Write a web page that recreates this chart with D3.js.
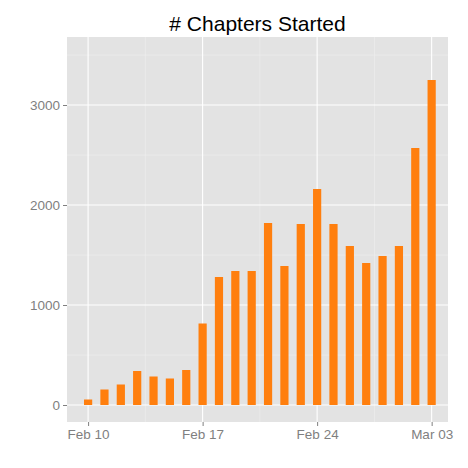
<!DOCTYPE html>
<html><head><meta charset="utf-8">
<script src="https://cdn.jsdelivr.net/npm/d3@7"></script>
<style>body{margin:0;background:#fff}</style>
</head><body><svg width="468" height="468"></svg>
<script>
// daily counts, Feb 10 .. Mar 03 (2014)
const startDate = new Date(2014, 1, 10);
const counts = [55, 155, 205, 340, 285, 265, 350, 815, 1280, 1340, 1340, 1820, 1390, 1810, 2160, 1810, 1590, 1420, 1490, 1590, 2570, 3250];
const xTicks = [new Date(2014, 1, 10), new Date(2014, 1, 17), new Date(2014, 1, 24), new Date(2014, 2, 3)];
const yTicks = [0, 1000, 2000, 3000];
const yMinor = [500, 1500, 2500, 3500];

const day = 864e5;
const data = counts.map((v, i) => ({ date: new Date(+startDate + i * day), value: v }));

const svg = d3.select("svg");
const L = 67, R = 448, T = 37, B = 422;

const x = d3.scaleTime()
  .domain([new Date(+startDate - 1.29 * day), new Date(+startDate + 22.0 * day)])
  .range([L, R]);
const y = d3.scaleLinear().domain([-170, 3680]).range([B, T]);

svg.append("rect").attr("x", L).attr("y", T).attr("width", R - L).attr("height", B - T).attr("fill", "#e3e3e3");

const xMinor = d3.pairs(xTicks).map(([a, b]) => new Date((+a + +b) / 2));
svg.selectAll(".ymin").data(yMinor).enter().append("line")
  .attr("x1", L).attr("x2", R).attr("y1", d => y(d)).attr("y2", d => y(d))
  .attr("stroke", "#f0f0f0").attr("stroke-width", 0.6);
svg.selectAll(".xmin").data(xMinor).enter().append("line")
  .attr("y1", T).attr("y2", B).attr("x1", d => x(d)).attr("x2", d => x(d))
  .attr("stroke", "#f0f0f0").attr("stroke-width", 0.6);
svg.selectAll(".ymaj").data(yTicks).enter().append("line")
  .attr("x1", L).attr("x2", R).attr("y1", d => y(d)).attr("y2", d => y(d))
  .attr("stroke", "#fff").attr("stroke-width", 1.1);
svg.selectAll(".xmaj").data(xTicks).enter().append("line")
  .attr("y1", T).attr("y2", B).attr("x1", d => x(d)).attr("x2", d => x(d))
  .attr("stroke", "#fff").attr("stroke-width", 1.1);

const bw = 8.2;
svg.selectAll(".bar").data(data).enter().append("rect")
  .attr("x", d => x(d.date) - bw / 2).attr("width", bw)
  .attr("y", d => y(d.value)).attr("height", d => y(0) - y(d.value))
  .attr("fill", "#ff7f0e");

const xAxis = svg.append("g").attr("transform", `translate(0,${B})`)
  .call(d3.axisBottom(x).tickValues(xTicks).tickFormat(d3.timeFormat("%b %d")).tickSize(4).tickPadding(3));
const yAxis = svg.append("g").attr("transform", `translate(${L},0)`)
  .call(d3.axisLeft(y).tickValues(yTicks).tickFormat(d3.format("d")).tickSize(4).tickPadding(3));
[xAxis, yAxis].forEach(g => {
  g.select(".domain").remove();
  g.selectAll("line").attr("stroke", "#7f7f7f");
  g.selectAll("text").attr("fill", "#7f7f7f").style("font-family", "Liberation Sans, Arial, sans-serif").style("font-size", "13.5px");
});

svg.append("text").attr("x", (L + R) / 2).attr("y", 31).attr("text-anchor", "middle")
  .style("font-family", "Liberation Sans, Arial, sans-serif").style("font-size", "21px")
  .text("# Chapters Started");
</script></body></html>
